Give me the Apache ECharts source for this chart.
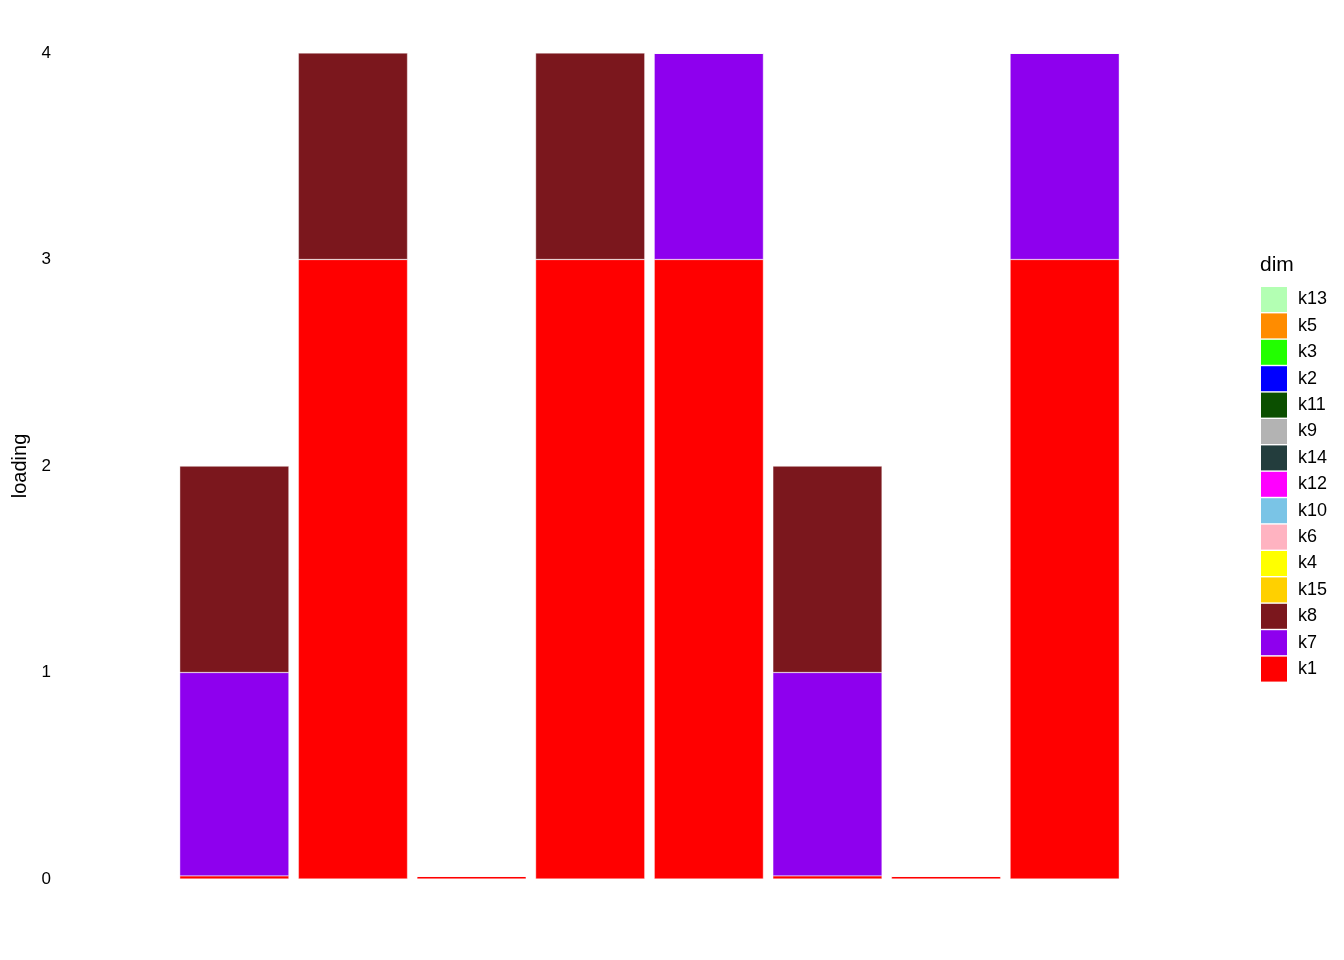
<!DOCTYPE html>
<html>
<head>
<meta charset="utf-8">
<script src="https://cdn.jsdelivr.net/npm/echarts@6/dist/echarts.min.js"></script>
<style>
  html, body { margin: 0; padding: 0; background: #fff; }
  #chart { width: 1344px; height: 960px; }
</style>
</head>
<body>
<div id="chart"></div>
<script>
// x categories (no labels shown on the axis)
const categories = ['c1', 'c2', 'c3', 'c4', 'c5', 'c6', 'c7', 'c8'];

// stacked from bottom (k1) to top (k13)
const dims = ['k1', 'k7', 'k8', 'k15', 'k4', 'k6', 'k10', 'k12', 'k14', 'k9', 'k11', 'k2', 'k3', 'k5', 'k13'];
const dimColors = ['#FF0000', '#8E00EE', '#7B171D', '#FFD000', '#FFFF00', '#FFB3C1', '#7AC4E6',
                   '#FF00FF', '#233D3D', '#B3B3B3', '#0B4F00', '#0000FF', '#22FF00', '#FF8C00', '#B3FFB3'];

// loading values per dim, one per category
const k1  = [0.015, 3, 0.015, 3, 3, 0.015, 0.015, 3];
const k7  = [0.985, 0, 0, 0, 1, 0.985, 0, 1];
const k8  = [1, 1, 0, 1, 0, 1, 0, 0];
const k15 = [0.004, 0.004, 0, 0.004, 0, 0.004, 0, 0];
const zeros = [0, 0, 0, 0, 0, 0, 0, 0];
const values = {
  k1: k1, k7: k7, k8: k8, k15: k15,
  k4: zeros, k6: zeros, k10: zeros, k12: zeros, k14: zeros,
  k9: zeros, k11: zeros, k2: zeros, k3: zeros, k5: zeros, k13: zeros
};

const yTicks = [0, 1, 2, 3, 4];

let myChart = echarts.init(document.getElementById('chart'));

myChart.setOption({
  backgroundColor: '#ffffff',
  animation: false,
  textStyle: { fontFamily: 'Liberation Sans, Arial, sans-serif' },
  title: {
    text: 'dim',
    left: 1260,
    top: 255,
    padding: 0,
    textStyle: { color: '#000', fontSize: 21, fontWeight: 'normal' }
  },
  legend: {
    data: dims.slice().reverse(),
    orient: 'vertical',
    left: 1261,
    top: 287,
    padding: 0,
    itemWidth: 26,
    itemHeight: 25,
    itemGap: 1.4,
    icon: 'rect',
    itemStyle: { borderWidth: 0 },
    textStyle: { color: '#000', fontSize: 18, lineHeight: 25, padding: [0, 0, 0, 6] },
    selectedMode: false
  },
  grid: { left: 175, right: 220, top: 53, bottom: 81 },
  xAxis: {
    type: 'category',
    data: categories,
    axisLine: { show: false },
    axisTick: { show: false },
    axisLabel: { show: false }
  },
  yAxis: {
    type: 'value',
    min: yTicks[0],
    max: yTicks[yTicks.length - 1],
    interval: 1,
    name: 'loading',
    nameLocation: 'middle',
    nameGap: 143,
    nameTextStyle: { color: '#000', fontSize: 20 },
    axisLine: { show: false },
    axisTick: { show: false },
    splitLine: { show: false },
    axisLabel: { color: '#000', fontSize: 17, margin: 124 }
  },
  series: dims.map(function (d, i) {
    return {
      name: d,
      type: 'bar',
      stack: 'total',
      barWidth: '92%',
      data: values[d],
      itemStyle: { color: dimColors[i], borderColor: '#ffffff', borderWidth: 0.4 }
    };
  })
});
</script>
</body>
</html>
